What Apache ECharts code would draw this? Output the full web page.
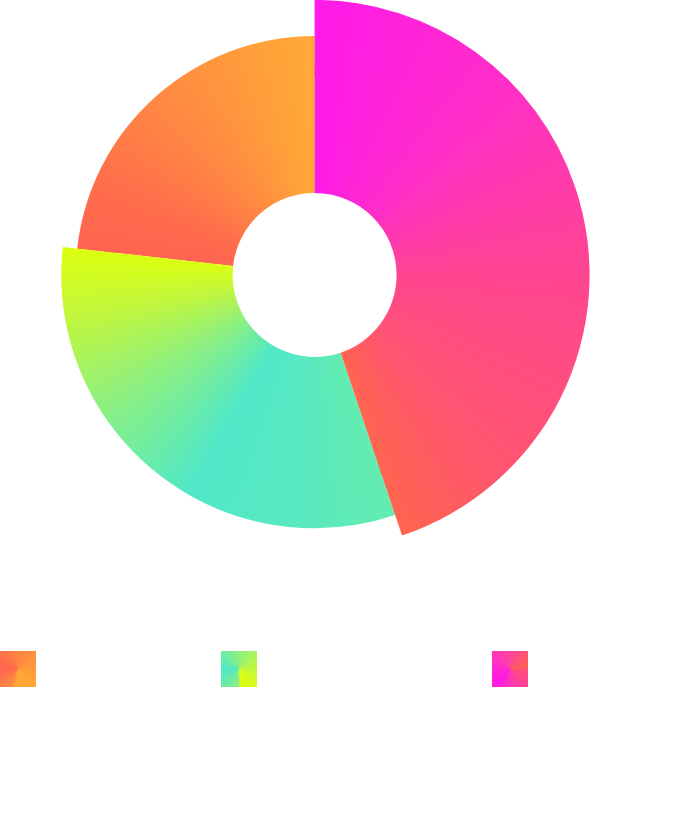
<!DOCTYPE html>
<html>
<head>
<meta charset="utf-8">
<script src="https://cdn.jsdelivr.net/npm/echarts@6/dist/echarts.min.js"></script>
<style>html,body{margin:0;padding:0;background:#ffffff}#chart{width:696px;height:833px}</style>
</head>
<body>
<div id="chart"></div>
<script>
// ---- data ----
const categories = ['Category A', 'Category B', 'Category C'];
const values = [23.25, 31.9, 44.85];
// colour stops along each slice (0 = clockwise start of slice, 1 = clockwise end)
const sliceStops = [
  [[0, '#ff6450'], [0.15, '#ff6a4c'], [0.45, '#ff8444'], [0.75, '#ff9a3c'], [1, '#ffaa36']],
  [[0, '#64ecb0'], [0.2, '#58e9c0'], [0.42, '#50e8c8'], [0.68, '#90f07c'], [0.85, '#bff640'], [1, '#dcff10']],
  [[0, '#ff1ae8'], [0.28, '#ff2ec8'], [0.56, '#ff4590'], [0.84, '#ff5570'], [1, '#ff6450']]
];
// legend icon conic colour stops: start angle (deg clockwise from 12 o'clock), stops in degrees from start
const iconStart = [200, 180, 88];
const iconStopsDeg = [
  [[0, '#ff8a44'], [70, '#ff6450'], [115, '#ff7448'], [160, '#ff8442'], [250, '#ff9a3c'], [310, '#ffaa34'], [358, '#ffa232']],
  [[0, '#90ee88'], [45, '#68eaa8'], [90, '#50e8c8'], [135, '#70eca0'], [180, '#90f080'], [225, '#a8f460'], [270, '#c0f840'], [315, '#d8fc18'], [358, '#dcff10']],
  [[0, '#ff5078'], [47, '#ff4490'], [92, '#ff34b8'], [132, '#ff18e4'], [182, '#ff28d0'], [227, '#ff38b8'], [272, '#ff44a0'], [317, '#ff5274'], [358, '#ff6250']]
];

// ---- chart ----
const W = 696, H = 833, SS = 2;
const CX = W * 0.452, CY = H * 0.33;
const legendLefts = [0, 221, 492];

// conic gradient painted into a canvas, used as an ECharts image pattern
function conicPattern(w, h, startDeg, cx, cy, stops, span) {
  const cv = document.createElement('canvas');
  cv.width = w * SS; cv.height = h * SS;
  const ctx = cv.getContext('2d');
  const pad = 2;
  const g = ctx.createConicGradient((startDeg - pad - 90) * Math.PI / 180, cx * SS, cy * SS);
  g.addColorStop(0, stops[0][1]);
  stops.forEach(s => g.addColorStop(Math.min(1, (pad + s[0] * span) / 360), s[1]));
  ctx.fillStyle = g;
  ctx.fillRect(0, 0, cv.width, cv.height);
  return { image: cv, repeat: 'no-repeat', scaleX: 1 / SS, scaleY: 1 / SS };
}

const sum = values.reduce((a, b) => a + b, 0);
let acc = 0;
const colors = categories.map((name, i) => {
  const span = values[i] / sum * 360;
  const end = 360 - acc;          // counter-clockwise from 12 o'clock
  const start = end - span;
  acc += span;
  return conicPattern(W, H, start, CX, CY, sliceStops[i], span);
});
const pieData = categories.map((name, i) => ({ name: name, value: values[i], itemStyle: { color: colors[i] } }));

const legends = categories.map((name, i) => ({
  left: legendLefts[i], top: 651, padding: 0,
  itemWidth: 36, itemHeight: 36, itemGap: 10,
  icon: 'rect',
  textStyle: { color: '#ffffff', fontSize: 14 },
  data: [{
    name: name,
    icon: 'rect',
    itemStyle: {
      color: conicPattern(36, 36, iconStart[i], 18, 18,
        iconStopsDeg[i].map(s => [s[0] / 358, s[1]]), 358)
    }
  }]
}));

const common = {
  type: 'pie',
  clockwise: false,
  startAngle: 90,
  center: ['45.2%', '33%'],
  silent: true,
  emphasis: { disabled: true },
  label: { show: false },
  labelLine: { show: false },
  data: pieData
};

const chart = echarts.init(document.getElementById('chart'), null, { renderer: 'canvas' });
chart.setOption({
  animation: false,
  backgroundColor: '#ffffff',
  legend: legends,
  series: [
    Object.assign({}, common, { name: 'base', radius: [82, 210] }),
    Object.assign({}, common, { name: 'rose', roseType: 'radius', radius: [200, 275] })
  ]
});
</script>
</body>
</html>
